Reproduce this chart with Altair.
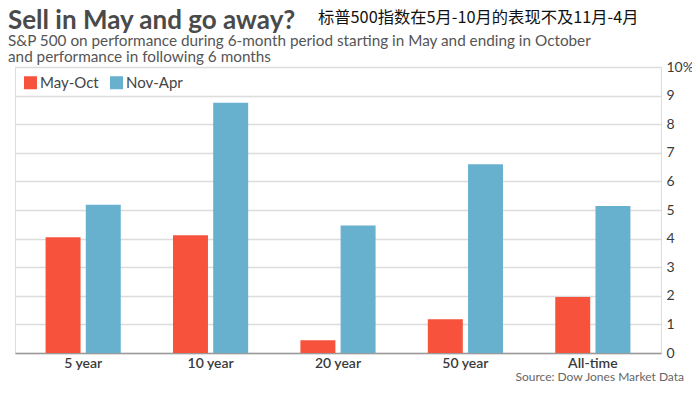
import altair as alt
import pandas as pd

periods = ["5 year", "10 year", "20 year", "50 year", "All-time"]
series = ["May-Oct", "Nov-Apr"]
may_oct = [4.05, 4.12, 0.45, 1.18, 1.96]
nov_apr = [5.18, 8.75, 4.46, 6.6, 5.14]
colors = ["#F7523B", "#67B1CF"]

title_text = "Sell in May and go away?"
cn_text = "标普500指数在5月-10月的表现不及11月-4月"
subtitle_lines = [
    "S&P 500 on performance during 6-month period starting in May and ending in October",
    "and performance in following 6 months",
]
source_text = "Source: Dow Jones Market Data"

rows = []
for i, p in enumerate(periods):
    rows.append({"period": p, "series": series[0], "value": may_oct[i]})
    rows.append({"period": p, "series": series[1], "value": nov_apr[i]})
df = pd.DataFrame(rows)

W, H = 646, 286

bars = alt.Chart(df).mark_bar().encode(
    x=alt.X("period:N", sort=periods,
            scale=alt.Scale(paddingInner=0.41, paddingOuter=0.24),
            axis=alt.Axis(title=None, labelAngle=0, ticks=False, domainColor="#9a9a9a",
                          domainWidth=1.5, labelFont="Lato", labelFontSize=14,
                          labelFontWeight=600, labelColor="#3a3a3a", labelPadding=3)),
    xOffset=alt.XOffset("series:N", sort=series, scale=alt.Scale(paddingInner=0.13)),
    y=alt.Y("value:Q", scale=alt.Scale(domain=[0, 10], nice=False),
            axis=alt.Axis(orient="right", title=None, values=list(range(0, 11)),
                          labelExpr="datum.value == 10 ? '10%' : datum.label",
                          ticks=False, domain=False, labelPadding=5,
                          labelFont="Lato", labelFontSize=14, labelColor="#3a3a3a",
                          gridColor="#dcdcdc", gridWidth=1.5)),
    color=alt.Color("series:N", sort=series,
                    scale=alt.Scale(domain=series, range=colors),
                    legend=alt.Legend(title=None, orient="none", legendX=8, legendY=8,
                                      direction="horizontal", symbolType="square",
                                      symbolSize=169, symbolStrokeWidth=0,
                                      labelFont="Lato", labelFontSize=15,
                                      labelColor="#444444", labelOffset=2,
                                      columnPadding=10, padding=0)),
)

def txt(t, x, y, **kw):
    return alt.Chart(pd.DataFrame({"t": [t]})).mark_text(**kw).encode(
        x=alt.value(x), y=alt.value(y), text="t:N")

title = txt(title_text, -7, -38, align="left", baseline="alphabetic", font="Lato",
            fontSize=26, fontWeight="bold", color="#4a4a4a")
cn = txt(cn_text, 303, -49, align="left", baseline="middle", font="Noto Sans CJK SC",
         fontSize=16.3, color="#111111")
sub1 = txt(subtitle_lines[0], -7, -21, align="left", baseline="alphabetic", font="Lato",
           fontSize=15.3, color="#555555")
sub2 = txt(subtitle_lines[1], -7, -5, align="left", baseline="alphabetic", font="Lato",
           fontSize=15.3, color="#555555")
src = txt(source_text, 669, 310, align="right", baseline="middle", font="Lato",
          fontSize=12, color="#666666")

chart = alt.layer(bars, title, cn, sub1, sub2, src).properties(
    width=W, height=H,
    autosize=alt.AutoSizeParams(type="none"),
    padding={"left": 7, "top": 59, "right": 31, "bottom": 34},
).configure_view(stroke="#c8c8c8", strokeWidth=1.5).configure(background="white")

chart.save("out.html", embed_options={"renderer": "svg", "actions": False})
